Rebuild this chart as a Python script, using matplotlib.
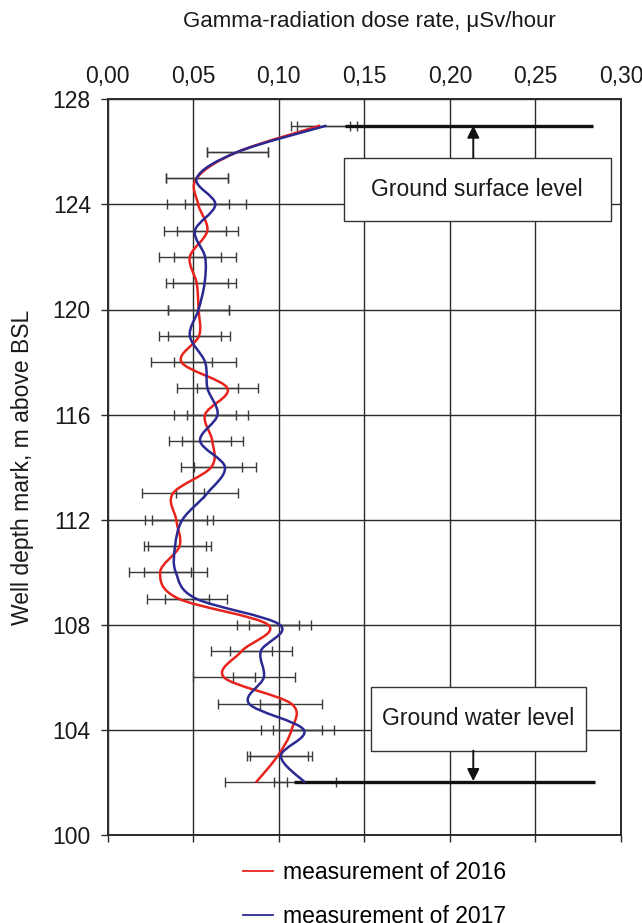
import numpy as np
import matplotlib
matplotlib.use("Agg")
import matplotlib.pyplot as plt
from matplotlib.path import Path
from matplotlib.patches import PathPatch, Rectangle
from matplotlib.lines import Line2D

plt.rcParams['font.family'] = ['Liberation Sans', 'DejaVu Sans']

# ---------------- data ----------------
depth = list(range(127, 101, -1))
dose_2016 = [0.1243, 0.0761, 0.0521, 0.0530, 0.0583, 0.0481, 0.0521, 0.0532, 0.0535,
             0.0432, 0.0701, 0.0570, 0.0612, 0.0606, 0.0382, 0.0401, 0.0421, 0.0308,
             0.0413, 0.0938, 0.0784, 0.0681, 0.1073, 0.1075, 0.0993, 0.0867]
dose_2017 = [0.1280, 0.0761, 0.0521, 0.0630, 0.0511, 0.0570, 0.0567, 0.0532, 0.0481,
             0.0570, 0.0584, 0.0643, 0.0541, 0.0686, 0.0582, 0.0438, 0.0395, 0.0399,
             0.0516, 0.1007, 0.0896, 0.0913, 0.0827, 0.1147, 0.1013, 0.1154]
err_2016 = [0.0173, 0.0178, 0.0181, 0.0181, 0.0179, 0.0180, 0.0181, 0.0180, 0.0180,
            0.0180, 0.0180, 0.0181, 0.0178, 0.0178, 0.0182, 0.0182, 0.0182, 0.0180,
            0.0180, 0.0180, 0.0179, 0.0180, 0.0182, 0.0180, 0.0180, 0.0180]
err_2017 = [0.0175, 0.0178, 0.0181, 0.0177, 0.0181, 0.0181, 0.0182, 0.0180, 0.0180,
            0.0181, 0.0180, 0.0176, 0.0180, 0.0179, 0.0182, 0.0180, 0.0180, 0.0184,
            0.0180, 0.0180, 0.0180, 0.0182, 0.0180, 0.0178, 0.0180, 0.0181]
series_labels = ["measurement of 2016", "measurement of 2017"]

x_ticks = [0.00, 0.05, 0.10, 0.15, 0.20, 0.25, 0.30]
x_ticklabels = ["0,00", "0,05", "0,10", "0,15", "0,20", "0,25", "0,30"]
y_ticks = [100, 104, 108, 112, 116, 120, 124, 128]

level_names = ["Ground surface level", "Ground water level"]
level_depth = [127, 102]
level_x_start = [0.1385, 0.109]
level_x_end = [0.2834, 0.2848]

# ---------------- style ----------------
RED = '#e8231c'
BLUE = '#2a2a92'
GRID = '#2b2b2b'
FS = 16.5


def smooth_path(xs, ys):
    P = np.column_stack([xs, ys]).astype(float)
    n = len(P)
    verts = [P[0]]
    codes = [Path.MOVETO]
    for i in range(n - 1):
        p_prev = P[i - 1] if i > 0 else P[i]
        p_next2 = P[i + 2] if i + 2 < n else P[i + 1]
        c1 = P[i] + (P[i + 1] - p_prev) / 6.0
        c2 = P[i + 1] - (p_next2 - P[i]) / 6.0
        verts += [c1, c2, P[i + 1]]
        codes += [Path.CURVE4] * 3
    return Path(verts, codes)


fig = plt.figure(figsize=(6.42, 9.23), dpi=100)
ax = fig.add_axes([107.5 / 642, 1 - 835 / 923, (621 - 107.5) / 642, (835 - 99.3) / 923])

ax.set_xlim(0, 0.30)
ax.set_ylim(100, 128)
ax.set_xticks(x_ticks)
ax.set_xticklabels(x_ticklabels)
ax.set_yticks(y_ticks)
ax.grid(True, color=GRID, lw=1.0)
ax.set_axisbelow(True)
for s in ax.spines.values():
    s.set_color(GRID)
    s.set_linewidth(1.4)

ax.tick_params(axis='x', which='both', bottom=True, top=False, labelbottom=False,
               labeltop=True, direction='out', length=5, width=1.0, color=GRID,
               labelsize=FS, pad=3, labelcolor='#1a1a1a')
ax.tick_params(axis='y', direction='out', length=5, width=1.0, color=GRID,
               labelsize=FS, pad=7, labelcolor='#1a1a1a')

# error bars
ax.errorbar(dose_2016, depth, xerr=err_2016, fmt='none', ecolor='#3a3a3a',
            elinewidth=1.0, capsize=3.5, capthick=1.0, zorder=2)
ax.errorbar(dose_2017, depth, xerr=err_2017, fmt='none', ecolor='#3a3a3a',
            elinewidth=1.0, capsize=3.5, capthick=1.0, zorder=2)

# level lines
for yv, x0, x1 in zip(level_depth, level_x_start, level_x_end):
    ax.plot([x0, x1], [yv, yv], color='#111111', lw=2.4, solid_capstyle='butt', zorder=3)

# smoothed curves
ax.add_patch(PathPatch(smooth_path(dose_2016, depth), facecolor='none', edgecolor=RED,
                       lw=1.8, zorder=4))
ax.add_patch(PathPatch(smooth_path(dose_2017, depth), facecolor='none', edgecolor=BLUE,
                       lw=1.8, zorder=5))

# annotation boxes
ax.add_patch(Rectangle((0.1380, 123.37), 0.294 - 0.1380, 125.78 - 123.37,
                       facecolor='white', edgecolor='#333333', lw=1.0, zorder=6))
ax.text(0.216, 124.57, level_names[0], ha='center', va='center', fontsize=FS, zorder=7,
        color='#1a1a1a')
ax.annotate('', xy=(0.2137, 127.0), xytext=(0.2137, 125.78),
            arrowprops=dict(arrowstyle='-|>', color='#111111', lw=1.4, mutation_scale=18,
                            shrinkA=0, shrinkB=0), zorder=7)

ax.add_patch(Rectangle((0.1537, 103.21), 0.2795 - 0.1537, 105.62 - 103.21,
                       facecolor='white', edgecolor='#333333', lw=1.0, zorder=6))
ax.text(0.2166, 104.42, level_names[1], ha='center', va='center', fontsize=FS, zorder=7,
        color='#1a1a1a')
ax.annotate('', xy=(0.2137, 102.05), xytext=(0.2137, 103.21),
            arrowprops=dict(arrowstyle='-|>', color='#111111', lw=1.4, mutation_scale=18,
                            shrinkA=0, shrinkB=0), zorder=7)

# titles
fig.text(369 / 642, 1 - 22 / 923, "Gamma-radiation dose rate, μSv/hour", ha='center',
         va='center', fontsize=16, color='#1a1a1a')
fig.text(23 / 642, 1 - 467 / 923, "Well depth mark, m above BSL", ha='center', va='center',
         rotation=90, fontsize=FS, color='#1a1a1a')

# legend
handles = [Line2D([], [], color=RED, lw=1.3), Line2D([], [], color=BLUE, lw=1.3)]
fig.legend(handles, series_labels, loc='upper left', bbox_to_anchor=(243 / 642, 1 - 861 / 923),
           frameon=False, fontsize=FS, handlelength=1.3, handletextpad=0.45,
           labelspacing=0.9, borderpad=0, borderaxespad=0)

fig.savefig("out.png", dpi=100)
